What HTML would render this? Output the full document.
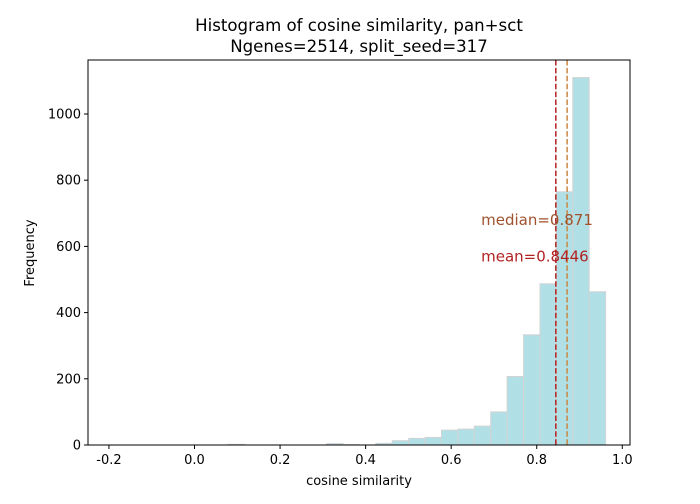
<!DOCTYPE html>
<html><head><meta charset="utf-8"><style>
body{margin:0;background:#fff;font-family:"DejaVu Sans","Liberation Sans",sans-serif}
svg text{font-family:"DejaVu Sans","Liberation Sans",sans-serif}
</style></head><body>
<svg id="c" width="700" height="500" xmlns="http://www.w3.org/2000/svg"></svg>
<script>
const binCounts=[0,0,0,0,0,0,0,2,0,0,0,0,0,4,1,0,5,13,20,23,45,48,57,100,207,333,487,765,1110,463];
const binMin=[-0.19];
const binMax=[0.961];
const xTicks=[-0.2,0.0,0.2,0.4,0.6,0.8,1.0];
const yTicks=[0,200,400,600,800,1000];
const stats=[0.8446,0.871];
const NS='http://www.w3.org/2000/svg';
const svg=document.getElementById('c');
const L=88,R=630,T=60,B=445;
const X=v=>194.5+(v)*427.8;
const Y=v=>445-v*0.331;
function el(t,a,p){const e=document.createElementNS(NS,t);for(const k in a)e.setAttribute(k,a[k]);(p||svg).appendChild(e);return e;}
const bw=(binMax[0]-binMin[0])/binCounts.length;
binCounts.forEach((c,i)=>{
 const x0=X(binMin[0]+i*bw),x1=X(binMin[0]+(i+1)*bw);
 const r=el('rect',{x:x0,y:Y(c),width:x1-x0,height:B-Y(c),fill:'#b0e0e6',stroke:'#d3d3d3','stroke-width':1});
 
 
});
const ml=el('line',{x1:X(stats[0]),x2:X(stats[0]),y1:T,y2:B,stroke:'#b22222','stroke-width':1.5,'stroke-dasharray':'5.5,2.4'});

const dl=el('line',{x1:X(stats[1]),x2:X(stats[1]),y1:T,y2:B,stroke:'#cd853f','stroke-width':1.5,'stroke-dasharray':'5.5,2.4'});

const t1=el('text',{x:X(0.67),y:Y(670)+2,fill:'#a0522d','font-size':15});t1.textContent='median='+stats[1];

const t2=el('text',{x:X(0.67),y:Y(560)+2,fill:'#b22222','font-size':15});t2.textContent='mean='+stats[0];

const fr=el('rect',{x:L,y:T,width:R-L,height:B-T,fill:'none',stroke:'#000','stroke-width':1});

xTicks.forEach(v=>{el('line',{x1:X(v),x2:X(v),y1:B,y2:B+4,stroke:'#000'});
 const t=el('text',{x:X(v),y:B+19,'text-anchor':'middle','font-size':13});t.textContent=v.toFixed(1);
 });
yTicks.forEach(v=>{el('line',{x1:L-4,x2:L,y1:Y(v),y2:Y(v),stroke:'#000'});
 const t=el('text',{x:L-7,y:Y(v)+4.5,'text-anchor':'end','font-size':13});t.textContent=v;
 });
</script>
<svg style="position:absolute;left:0;top:0" width="700" height="500" xmlns="http://www.w3.org/2000/svg">
<text x="359" y="31" text-anchor="middle" font-size="16.6">Histogram of cosine similarity, pan+sct</text>
<text x="359" y="52" text-anchor="middle" font-size="16.6">Ngenes=2514, split_seed=317</text>
<text x="359" y="485" text-anchor="middle" font-size="13">cosine similarity</text>
<text x="34" y="253" text-anchor="middle" font-size="13" transform="rotate(-90 34 253)">Frequency</text>
</svg>
</body></html>
